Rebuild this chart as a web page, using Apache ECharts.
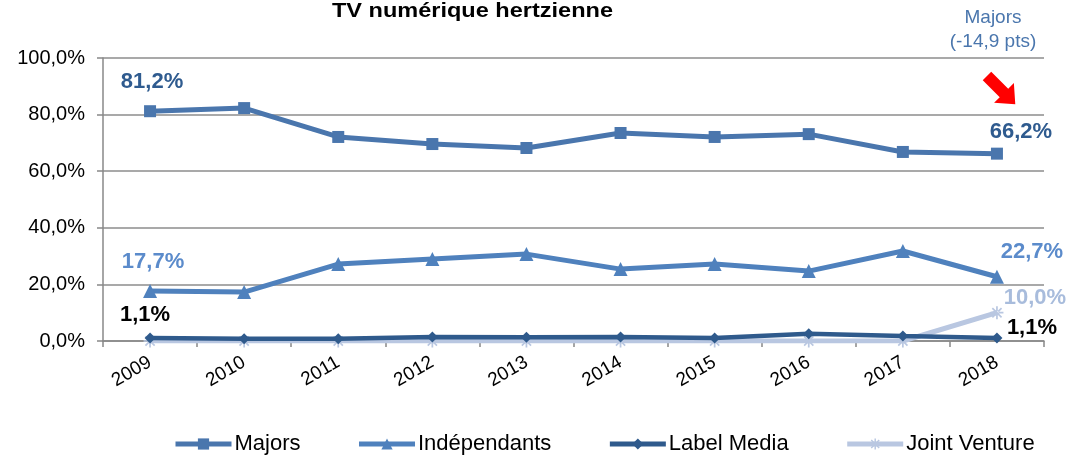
<!DOCTYPE html>
<html>
<head>
<meta charset="utf-8">
<script src="https://cdn.jsdelivr.net/npm/echarts@6/dist/echarts.min.js"></script>
<style>
  html, body { margin: 0; padding: 0; background: #fff; }
  #chart { width: 1077px; height: 455px; }
</style>
</head>
<body>
<div id="chart"></div>
<script>
// Parts de marché par type de producteur, TV numérique hertzienne
const years = ['2009', '2010', '2011', '2012', '2013', '2014', '2015', '2016', '2017', '2018'];
const majors = [81.2, 82.3, 72.1, 69.6, 68.2, 73.5, 72.1, 73.1, 66.8, 66.2];
const independants = [17.7, 17.3, 27.2, 29.0, 30.7, 25.4, 27.2, 24.7, 31.8, 22.7];
const labelMedia = [1.1, 0.8, 0.8, 1.4, 1.3, 1.4, 1.1, 2.6, 1.8, 1.1];
const jointVenture = [0.0, 0.0, 0.0, 0.0, 0.0, 0.0, 0.0, 0.0, 0.0, 10.0];
const yTicks = [0, 20, 40, 60, 80, 100];

const FONT = '"Liberation Sans", Arial, sans-serif';
const pct = v => v.toFixed(1).replace('.', ',') + '%';

// label only the first and last point of a series
function endLabels(values, first, last) {
  return values.map((v, i) => {
    const item = { value: v };
    if (i === 0 && first) item.label = Object.assign({ show: true }, first);
    if (i === values.length - 1 && last) item.label = Object.assign({ show: true }, last);
    return item;
  });
}
const lbl = (color, offset) => ({
  position: 'inside', offset: offset, color: color, fontFamily: FONT,
  fontSize: 22, fontWeight: 'bold', formatter: p => pct(p.value)
});

const asterisk = 'path://M-0.8,-6 L0.8,-6 L0.8,6 L-0.8,6 Z M-6,-0.8 L6,-0.8 L6,0.8 L-6,0.8 Z M-4.8,-3.7 L-3.7,-4.8 L4.8,3.7 L3.7,4.8 Z M4.8,-3.7 L3.7,-4.8 L-4.8,3.7 L-3.7,4.8 Z';

const chart = echarts.init(document.getElementById('chart'));
chart.setOption({
  animation: false,
  grid: { left: 103, right: 33, top: 58, bottom: 114 },
  legend: {
    top: 433, left: 173, padding: 0,
    itemWidth: 56, itemHeight: 14, itemGap: 56,
    lineStyle: { width: 5 },
    textStyle: { fontFamily: FONT, fontSize: 22, color: '#000', padding: [0, 0, 0, -2] },
    data: ['Majors', 'Indépendants', 'Label Media', 'Joint Venture']
  },
  xAxis: {
    type: 'category', data: years, boundaryGap: true,
    axisLine: { lineStyle: { color: '#888', width: 1.5 } },
    axisTick: { show: true, length: 6, lineStyle: { color: '#888', width: 1.5 } },
    axisLabel: { rotate: 30, margin: 20, fontFamily: FONT, fontSize: 19, color: '#000' }
  },
  yAxis: {
    type: 'value', min: 0, max: 100, interval: 20,
    axisLine: { show: true, lineStyle: { color: '#888', width: 1.5 } },
    axisTick: { show: true, length: 6, lineStyle: { color: '#888', width: 1.5 } },
    splitLine: { lineStyle: { color: '#8c8c8c', width: 1.5 } },
    axisLabel: {
      margin: 18, fontFamily: FONT, fontSize: 20, color: '#000',
      formatter: v => yTicks.includes(v) ? pct(v) : ''
    }
  },
  series: [
    {
      name: 'Majors', type: 'line', z: 5,
      data: endLabels(majors, lbl('#2f5b8f', [2, -29]), lbl('#2f5b8f', [24, -22])),
      symbol: 'rect', symbolSize: 12,
      lineStyle: { color: '#4a76ad', width: 5 },
      itemStyle: { color: '#4a76ad' }
    },
    {
      name: 'Indépendants', type: 'line', z: 4,
      data: endLabels(independants, lbl('#5b8bcb', [3, -29]), lbl('#5b8bcb', [35, -25])),
      symbol: 'triangle', symbolSize: 14,
      lineStyle: { color: '#4f81bd', width: 5 },
      itemStyle: { color: '#4f81bd' }
    },
    {
      name: 'Label Media', type: 'line', z: 6,
      data: endLabels(labelMedia, lbl('#000', [-5, -23]), lbl('#000', [35, -10])),
      symbol: 'diamond', symbolSize: 11,
      lineStyle: { color: '#2f5a8c', width: 4.5 },
      itemStyle: { color: '#2f5a8c' }
    },
    {
      name: 'Joint Venture', type: 'line', z: 3,
      data: endLabels(jointVenture, null, lbl('#a8bcdc', [38, -15])),
      symbol: asterisk, symbolSize: 13,
      lineStyle: { color: '#b9c7e1', width: 5 },
      itemStyle: { color: '#b9c7e1' }
    }
  ],
  graphic: [
    {
      type: 'text', x: 332, y: 1, scaleX: 1.12,
      style: {
        text: 'TV numérique hertzienne', verticalAlign: 'top',
        fontFamily: FONT, fontSize: 21, fontWeight: 'bold', fill: '#000'
      }
    },
    {
      type: 'text', x: 993, y: 6,
      style: {
        text: 'Majors\n(-14,9 pts)', align: 'center',
        fontFamily: FONT, fontSize: 19, lineHeight: 24, fill: '#4a76ad'
      }
    },
    {
      type: 'polygon', x: 987, y: 76, rotation: -Math.PI / 4,
      shape: { points: [[0, -6], [24, -6], [24, -14], [40, 0], [24, 14], [24, 6], [0, 6]] },
      style: { fill: '#ff0000' }
    }
  ]
});
</script>
</body>
</html>
